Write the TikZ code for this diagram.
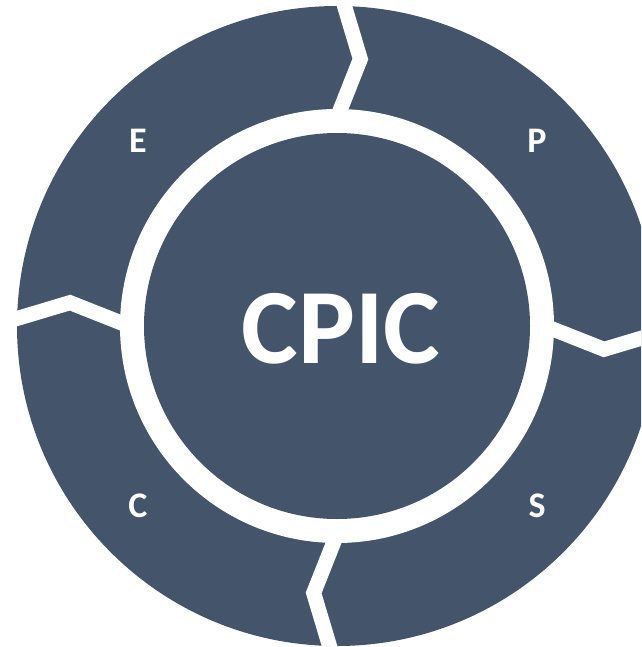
\documentclass[tikz,border=0pt]{standalone}
\usepackage{fontspec}
\setmainfont{Carlito}
\usetikzlibrary{positioning}
\definecolor{slate}{HTML}{44546A}

\begin{document}
\begin{tikzpicture}[x=1pt, y=-1pt,
    quarter/.style={text=white, font=\bfseries\fontsize{36}{36}\selectfont},
    hub/.style={text=white, font=\bfseries\fontsize{107}{107}\selectfont},
    notch/.style={draw=white, line width=15pt, line join=miter}]
  \useasboundingbox (0,0) rectangle (641,647);
  \clip (0,0) rectangle (641,647);

  % ring and hub
  \coordinate (o) at (337,326);
  \fill[slate] (o) circle (320pt);
  \fill[white] (o) circle (217pt);
  \fill[slate] (o) circle (193pt);

  % chevron cuts between the four parts
  \begin{scope}[shift={(o)}]
    \foreach \a in {-90,0,90,180}
      \draw[notch] (\a:208) -- (\a+5:268) -- (\a:345);
  \end{scope}

  \node[hub] (cpic) at (341,329) {CPIC};
  \node[quarter] (e) at (138,141) {E};
  \node[quarter] (p) at (537,141) {P};
  \node[quarter] (c) at (138,506) {C};
  \node[quarter] (s) at (537,506) {S};
\end{tikzpicture}
\end{document}
